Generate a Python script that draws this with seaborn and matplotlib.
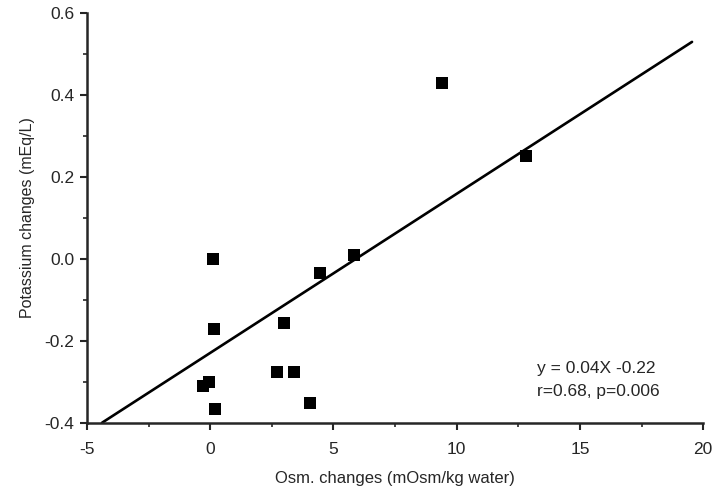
import numpy as np
import pandas as pd
import matplotlib
matplotlib.use("Agg")
import matplotlib.pyplot as plt
import seaborn as sns
from matplotlib.ticker import MultipleLocator

# data
osm_change = [9.4, 12.8, 0.1, 0.15, -0.3, -0.05, 0.2, 3.0, 2.7, 3.4, 4.05, 4.45, 5.85]
k_change = [0.43, 0.25, 0.0, -0.17, -0.31, -0.30, -0.365, -0.155, -0.275, -0.275, -0.35, -0.035, 0.01]

# fitted line as drawn (y = 0.04X - 0.22)
fit_slope = 0.0388
fit_intercept = -0.229
fit_x = [-4.39, 19.55]

eq_text = "y = 0.04X -0.22"
stat_text = "r=0.68, p=0.006"

sns.set_style("ticks")
plt.rcParams["font.family"] = ["Liberation Sans", "DejaVu Sans"]
plt.rcParams["axes.unicode_minus"] = False

df = pd.DataFrame({"osm": osm_change, "k": k_change})
fit_df = pd.DataFrame({"osm": fit_x, "k": [fit_slope * x + fit_intercept for x in fit_x]})

fig = plt.figure(figsize=(7.16, 4.94), dpi=100)
ax = fig.add_axes([0.1215, 0.1437, 0.8605, 0.83])

sns.lineplot(data=fit_df, x="osm", y="k", color="black", lw=1.9, ax=ax)
sns.scatterplot(data=df, x="osm", y="k", marker="s", s=66, color="black",
                edgecolor="black", linewidth=0, ax=ax, zorder=3)

ax.set_xlim(-5, 20)
ax.set_ylim(-0.4, 0.6)
ax.xaxis.set_major_locator(MultipleLocator(5))
ax.xaxis.set_minor_locator(MultipleLocator(2.5))
ax.yaxis.set_major_locator(MultipleLocator(0.2))
ax.yaxis.set_minor_locator(MultipleLocator(0.1))
ax.yaxis.set_major_formatter(plt.FuncFormatter(lambda v, p: f"{v:.1f}".replace("-0.0", "0.0")))

ax.tick_params(axis="both", which="major", length=5, width=1.5, labelsize=12.5)
ax.tick_params(axis="x", which="major", pad=9)
ax.tick_params(axis="y", which="major", pad=4)
ax.tick_params(axis="both", which="minor", length=3, width=1.2)
for s in ["left", "bottom"]:
    ax.spines[s].set_linewidth(1.8)
sns.despine(ax=ax)

ax.set_xlabel("Osm. changes (mOsm/kg water)", fontsize=12, labelpad=10)
ax.set_ylabel("Potassium changes (mEq/L)", fontsize=11.5, labelpad=7)

ax.text(13.25, -0.268, eq_text, fontsize=12.5, va="center", ha="left")
ax.text(13.25, -0.322, stat_text, fontsize=12.5, va="center", ha="left")

fig.savefig("out.png", dpi=100)
